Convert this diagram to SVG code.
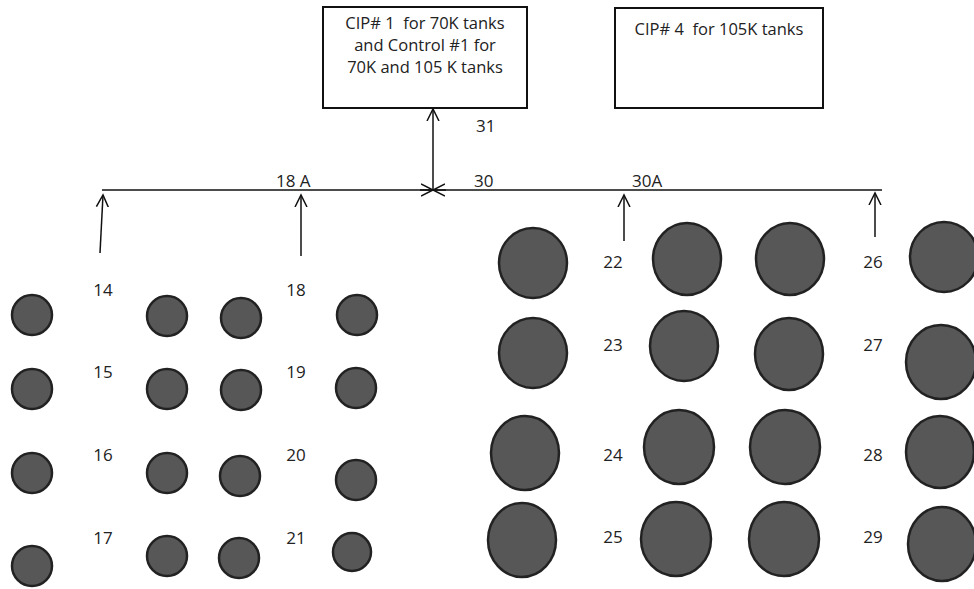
<svg xmlns="http://www.w3.org/2000/svg" width="974" height="589" viewBox="0 0 974 589">
<style>
.box{fill:#fff;stroke:#111;stroke-width:2}
.t{font-family:"Open Sans","Liberation Sans",sans-serif;font-size:16.5px;fill:#222;white-space:pre}
.n{font-family:"Open Sans","Liberation Sans",sans-serif;font-size:17px;fill:#222}
.tank{fill:#575757;stroke:#222;stroke-width:2.5}
.ln{stroke:#111;stroke-width:1.5;fill:none}
</style>
<defs>
<marker id="ah" markerWidth="14" markerHeight="14" refX="12" refY="7" orient="auto" markerUnits="userSpaceOnUse">
<path d="M0,1 L12,7 L0,13" fill="none" stroke="#111" stroke-width="1.5"/>
</marker>
</defs>
<rect width="974" height="589" fill="#fff"/>
<g id="cip1">
<rect class="box" x="323" y="7" width="204" height="101"/>
<text class="t" x="425" y="29" text-anchor="middle" xml:space="preserve">CIP# 1  for 70K tanks</text>
<text class="t" x="425" y="51" text-anchor="middle">and Control #1 for</text>
<text class="t" x="425" y="73" text-anchor="middle">70K and 105 K tanks</text>
</g>
<g id="cip4">
<rect class="box" x="615" y="8" width="208" height="100"/>
<text class="t" x="719" y="35" text-anchor="middle" xml:space="preserve">CIP# 4  for 105K tanks</text>
</g>
<g id="connectors">
<line class="ln" x1="102" y1="190" x2="882" y2="190"/>
<line class="ln" x1="420" y1="190" x2="433" y2="190" marker-end="url(#ah)"/>
<line class="ln" x1="446" y1="190" x2="433" y2="190" marker-end="url(#ah)"/>
<line class="ln" x1="433" y1="190" x2="433" y2="109" marker-end="url(#ah)"/>
<line class="ln" x1="100" y1="253" x2="103" y2="195" marker-end="url(#ah)"/>
<line class="ln" x1="301" y1="256" x2="301" y2="195" marker-end="url(#ah)"/>
<line class="ln" x1="624" y1="241" x2="624" y2="195" marker-end="url(#ah)"/>
<line class="ln" x1="875" y1="237" x2="875" y2="193" marker-end="url(#ah)"/>
</g>
<g id="labels">
<text class="n" x="476" y="132">31</text>
<text class="n" x="276" y="187">18 A</text>
<text class="n" x="474" y="187">30</text>
<text class="n" x="632" y="187">30A</text>
<text class="n" x="103" y="296" text-anchor="middle">14</text>
<text class="n" x="103" y="378" text-anchor="middle">15</text>
<text class="n" x="103" y="461" text-anchor="middle">16</text>
<text class="n" x="103" y="544" text-anchor="middle">17</text>
<text class="n" x="296" y="296" text-anchor="middle">18</text>
<text class="n" x="296" y="378" text-anchor="middle">19</text>
<text class="n" x="296" y="461" text-anchor="middle">20</text>
<text class="n" x="296" y="544" text-anchor="middle">21</text>
<text class="n" x="613" y="268" text-anchor="middle">22</text>
<text class="n" x="613" y="351" text-anchor="middle">23</text>
<text class="n" x="613" y="461" text-anchor="middle">24</text>
<text class="n" x="613" y="543" text-anchor="middle">25</text>
<text class="n" x="873" y="268" text-anchor="middle">26</text>
<text class="n" x="873" y="351" text-anchor="middle">27</text>
<text class="n" x="873" y="461" text-anchor="middle">28</text>
<text class="n" x="873" y="543" text-anchor="middle">29</text>
</g>
<g id="tanks-70k">
<circle class="tank" cx="32" cy="315" r="20"/>
<circle class="tank" cx="167" cy="316" r="20"/>
<circle class="tank" cx="241" cy="318" r="20"/>
<circle class="tank" cx="357" cy="315" r="20"/>
<circle class="tank" cx="32" cy="389" r="20"/>
<circle class="tank" cx="167" cy="389" r="20"/>
<circle class="tank" cx="241" cy="390" r="20"/>
<circle class="tank" cx="356" cy="388" r="20"/>
<circle class="tank" cx="32" cy="473" r="20"/>
<circle class="tank" cx="167" cy="473" r="20"/>
<circle class="tank" cx="240" cy="476" r="20"/>
<circle class="tank" cx="356" cy="480" r="20"/>
<circle class="tank" cx="32" cy="566" r="20"/>
<circle class="tank" cx="167" cy="556" r="20"/>
<circle class="tank" cx="239" cy="558" r="20"/>
<circle class="tank" cx="352" cy="552" r="19"/>
</g>
<g id="tanks-105k">
<ellipse class="tank" cx="533" cy="263" rx="34" ry="35"/>
<ellipse class="tank" cx="687" cy="259" rx="34" ry="36"/>
<ellipse class="tank" cx="790" cy="259" rx="34" ry="36"/>
<ellipse class="tank" cx="944" cy="257" rx="34" ry="35"/>
<ellipse class="tank" cx="533" cy="353" rx="34" ry="35"/>
<ellipse class="tank" cx="684" cy="346" rx="34" ry="35"/>
<ellipse class="tank" cx="789" cy="354" rx="34" ry="36"/>
<ellipse class="tank" cx="941" cy="362" rx="35" ry="37"/>
<ellipse class="tank" cx="525" cy="453" rx="34" ry="37"/>
<ellipse class="tank" cx="679" cy="447" rx="35" ry="37"/>
<ellipse class="tank" cx="785" cy="447" rx="35" ry="37"/>
<ellipse class="tank" cx="940" cy="452" rx="34" ry="36"/>
<ellipse class="tank" cx="522" cy="540" rx="34" ry="37"/>
<ellipse class="tank" cx="676" cy="539" rx="35" ry="37"/>
<ellipse class="tank" cx="784" cy="539" rx="35" ry="37"/>
<ellipse class="tank" cx="942" cy="544" rx="34" ry="37"/>
</g>
</svg>
